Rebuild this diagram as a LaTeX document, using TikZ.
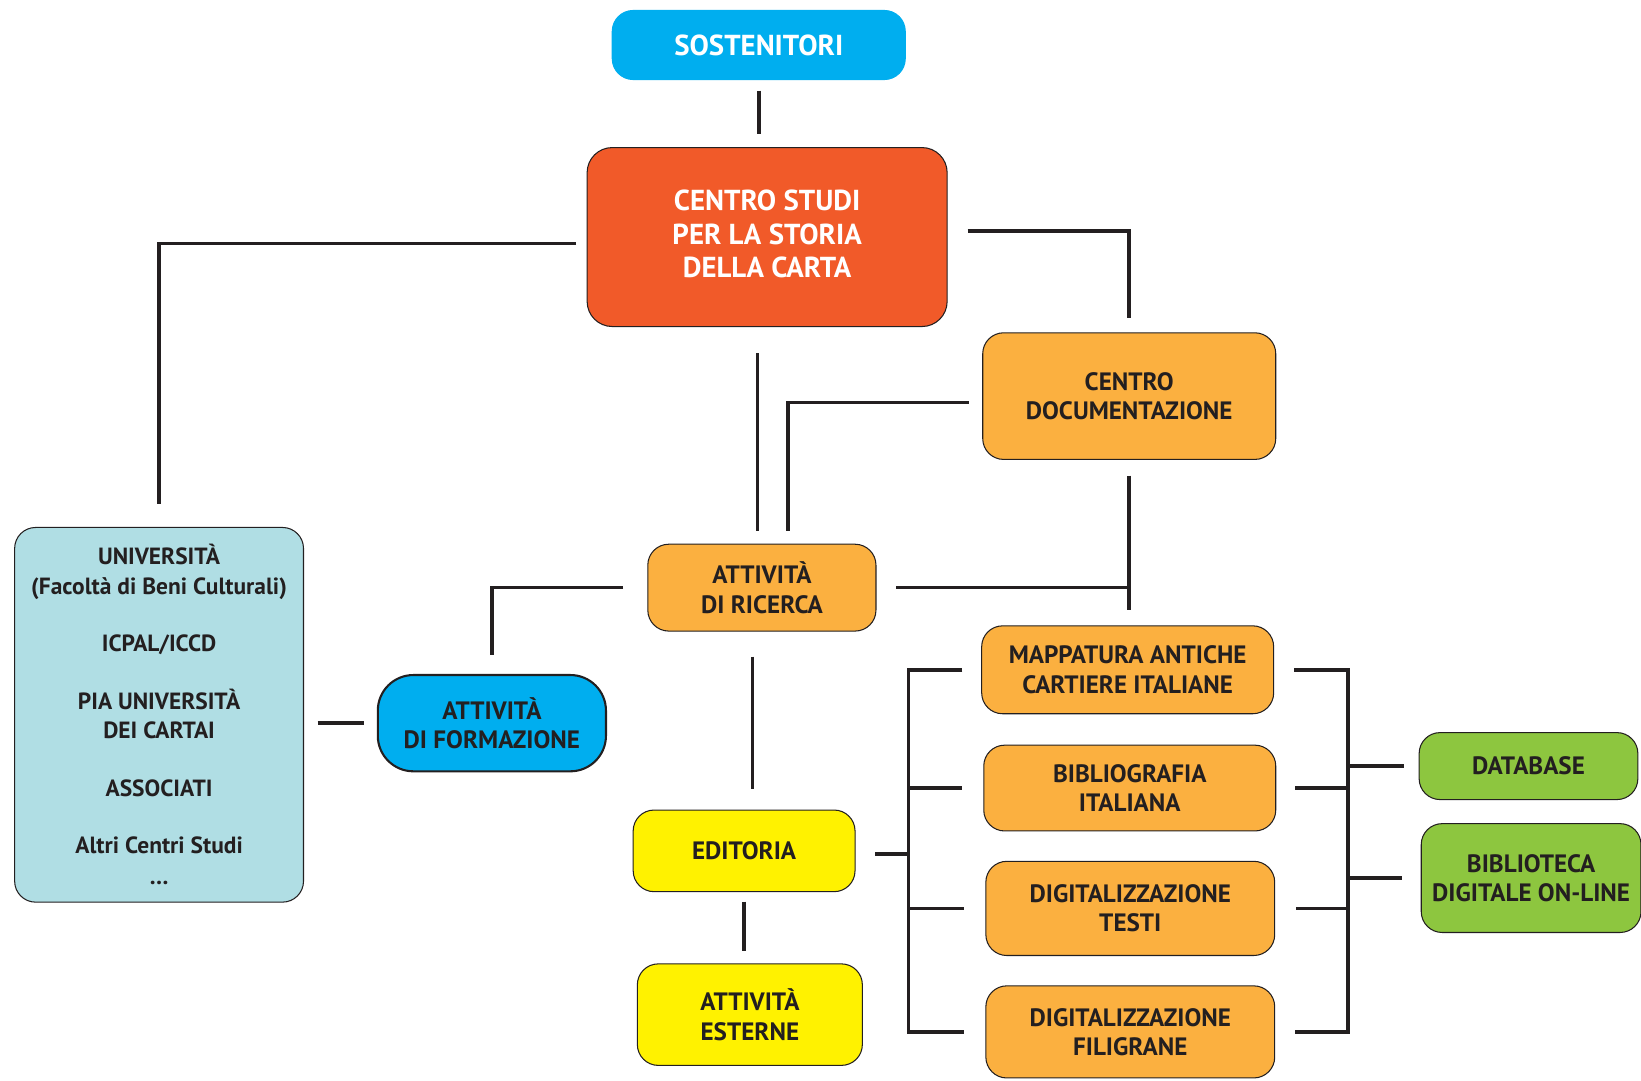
\documentclass[tikz,border=0pt]{standalone}
\usepackage{fontspec}
\setmainfont{PT Sans}
\usetikzlibrary{calc}
\usetikzlibrary{positioning}

\definecolor{cyanbox}{HTML}{00AEEF}
\definecolor{redbox}{HTML}{F15A29}
\definecolor{orangebox}{HTML}{FBB040}
\definecolor{yellowbox}{HTML}{FFF200}
\definecolor{greenbox}{HTML}{8DC63F}
\definecolor{lightbox}{HTML}{B0DEE4}
\definecolor{ink}{HTML}{231F20}

\begin{document}
\begin{tikzpicture}[x=0.5pt,y=-0.5pt,
    box/.style={draw=ink, line width=0.5pt, rounded corners=10pt, align=center,
        inner sep=0pt, text=ink, font=\fontsize{12}{14}\selectfont\bfseries},
    whitebox/.style={box, text=white, font=\fontsize{13.8}{16.2}\selectfont\bfseries},
    link/.style={draw=ink, line width=1.7pt, shorten <=5pt, shorten >=6pt}]
    \useasboundingbox (0,0) rectangle (1568,1032);
    % top
    \node[whitebox, fill=cyanbox, draw=cyanbox, minimum width=140pt, minimum height=33pt] (sost) at (725,43) {SOSTENITORI};
    \node[whitebox, fill=redbox, rounded corners=12pt, minimum width=172pt, minimum height=85.5pt] (centro) at (733,226.5) {CENTRO STUDI\\PER LA STORIA\\DELLA CARTA\\[-13pt]};
    \node[box, fill=orangebox, minimum width=140pt, minimum height=60.5pt] (doc) at (1079,378.5) {CENTRO\\DOCUMENTAZIONE};
    \node[box, fill=orangebox, minimum width=109pt, minimum height=41.5pt] (ricerca) at (728,561.5) {ATTIVITÀ\\DI RICERCA};
    % left side
    \node[box, fill=lightbox, minimum width=138pt, minimum height=179pt, font=\fontsize{11.2}{14}\selectfont\bfseries] (univ) at (152,683)
        {UNIVERSITÀ\\(Facoltà di Beni Culturali)\\[13.5pt]ICPAL/ICCD\\[13.5pt]PIA UNIVERSITÀ\\DEI CARTAI\\[13.5pt]ASSOCIATI\\[13.5pt]Altri Centri Studi\\[1pt]\dots};
    \node[box, fill=cyanbox, line width=1pt, rounded corners=17pt, minimum width=109pt, minimum height=46pt] (form) at (470,691) {ATTIVITÀ\\DI FORMAZIONE};
    \node[box, fill=yellowbox, minimum width=106pt, minimum height=39pt] (edit) at (711,813) {EDITORIA};
    \node[box, fill=yellowbox, minimum width=107.5pt, minimum height=48.5pt] (est) at (716.5,969.5) {ATTIVITÀ\\ESTERNE};
    % projects
    \node[box, fill=orangebox, minimum width=139.5pt, minimum height=42pt] (mapp) at (1077.5,640) {MAPPATURA ANTICHE\\CARTIERE ITALIANE};
    \node[box, fill=orangebox, minimum width=139.5pt, minimum height=41pt] (bibl) at (1079.5,753) {BIBLIOGRAFIA\\ITALIANA};
    \node[box, fill=orangebox, minimum width=138pt, minimum height=45pt] (dtesti) at (1080,868) {DIGITALIZZAZIONE\\TESTI};
    \node[box, fill=orangebox, minimum width=138pt, minimum height=44pt] (dfil) at (1080,986) {DIGITALIZZAZIONE\\FILIGRANE};
    \node[box, fill=greenbox, minimum width=104.5pt, minimum height=32pt] (db) at (1460.5,732) {DATABASE};
    \node[box, fill=greenbox, minimum width=105pt, minimum height=52pt] (bib) at (1463,839) {BIBLIOTECA\\DIGITALE ON-LINE};
    \coordinate (lbus) at (868,816);
    \coordinate (rbus) at (1288,732);

    % connectors
    \draw[link] (sost.south) -- (sost.south |- centro.north);
    \draw[link, shorten >=11pt] ([yshift=-3pt]centro.west) -| (univ.north);
    \draw[link, shorten <=9.5pt, shorten >=7pt] ([yshift=3pt]centro.east) -| (doc.north);
    \draw[link, shorten <=12.5pt] ([xshift=-4.5pt]centro.south) -- ([xshift=-4.5pt]centro.south |- ricerca.north);
    \draw[link, shorten <=6.5pt] ([yshift=-3pt]doc.west) -| ([xshift=12.5pt]ricerca.north);
    \draw[link, shorten <=7.5pt, shorten >=7.5pt] (doc.south) -- (doc.south |- mapp.north);
    \draw[link, shorten <=9.5pt, shorten >=0pt] (ricerca.east) -- (ricerca.east -| doc.south);
    \draw[link, shorten <=11.5pt, shorten >=9pt] (ricerca.west) -| (form.north);
    \draw[link, shorten <=6.5pt] (univ.east |- form.west) -- (form.west);
    \draw[link, shorten <=12pt, shorten >=10pt] ([xshift=-4.5pt]ricerca.south) -- ([xshift=-4.5pt]ricerca.south |- edit.north);
    \draw[link, shorten <=4.5pt] (edit.south) -- (edit.south |- est.north);
    % left bus
    \draw[link, shorten <=9.5pt, shorten >=0pt] (edit.east |- lbus) -- (lbus);
    \draw[link, shorten <=9pt, shorten >=10pt] (mapp.west) -- (lbus |- mapp.west) -- (lbus |- dfil.west) -- (dfil.west);
    \draw[link, shorten <=0pt, shorten >=10pt] (lbus |- bibl.west) -- (bibl.west);
    \draw[link, shorten <=0pt, shorten >=10pt] (lbus |- dtesti.west) -- (dtesti.west);
    % right bus
    \draw[link, shorten <=9.5pt, shorten >=9.5pt] (mapp.east) -- (rbus |- mapp.east) -- (rbus |- dfil.east) -- (dfil.east);
    \draw[link, shorten <=9pt, shorten >=0pt] (bibl.east) -- (rbus |- bibl.east);
    \draw[link, shorten <=10pt, shorten >=0pt] (dtesti.east) -- (rbus |- dtesti.east);
    \draw[link, shorten <=0pt, shorten >=7pt] (rbus) -- (db.west);
    \draw[link, shorten <=0pt, shorten >=9pt] (rbus |- bib.west) -- (bib.west);
\end{tikzpicture}
\end{document}
